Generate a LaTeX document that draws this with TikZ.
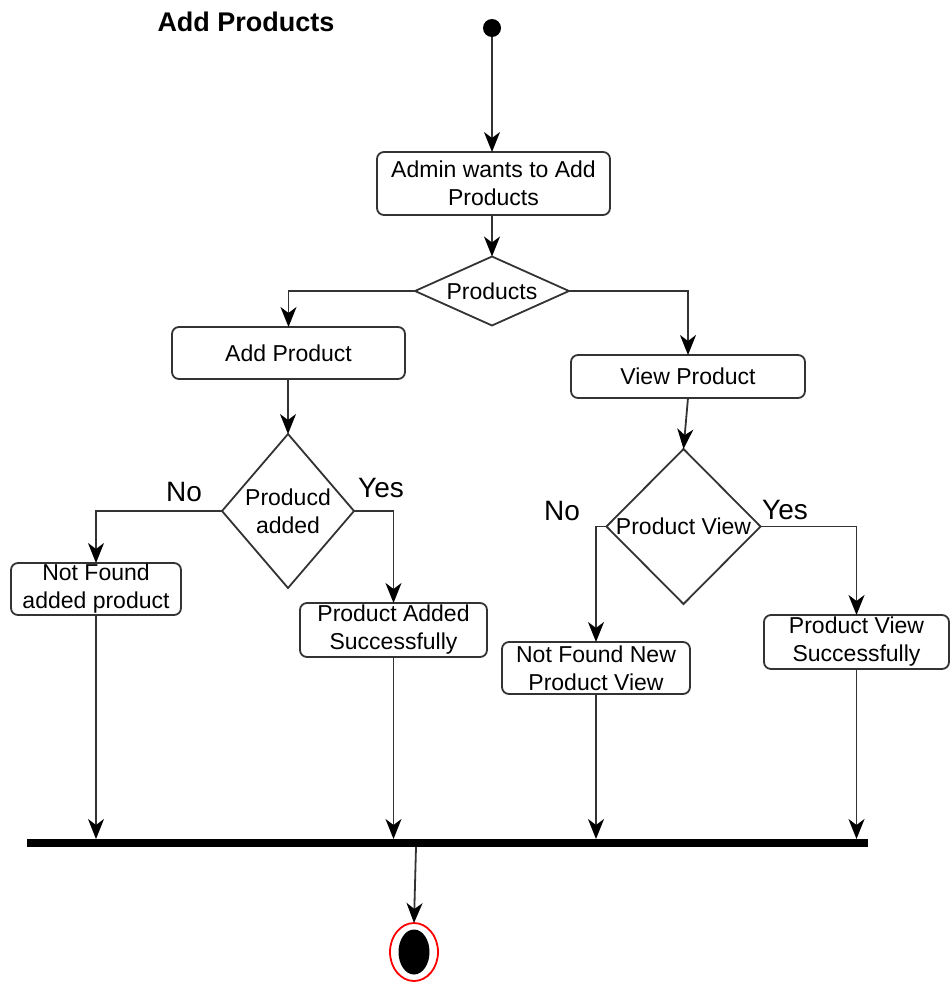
\documentclass[tikz,border=0pt]{standalone}
\usepackage{fontspec}
\setmainfont{Liberation Sans}
\usetikzlibrary{arrows.meta,shapes.geometric}

\begin{document}
\begin{tikzpicture}[x=1pt,y=-1pt,
  every node/.style={inner sep=0pt, outer sep=0pt},
  lbl/.style={font=\fontsize{23}{28}\selectfont, align=center, text=black},
  actbox/.style={draw=black!80, line width=1.8pt, rounded corners=7pt, fill=white, lbl},
  choice/.style={diamond, draw=black!80, line width=1.8pt, fill=white},
  answer/.style={font=\fontsize{28}{32}\selectfont, text=black},
  flow/.style={draw=black!80, line width=1.8pt,
    -{Stealth[length=20pt, width=16pt, inset=6pt, color=black]}},
  plain/.style={draw=black!80, line width=1.8pt}
]
\useasboundingbox (0,0) rectangle (950,985);

% title
\node[font=\fontsize{27}{32}\selectfont\bfseries] (title) at (246,22) {Add Products};

% initial and final states
\node[circle, fill=black, minimum size=18pt] (start) at (492,28) {};
\node[ellipse, draw=red, line width=1.8pt, fill=white,
      minimum width=48pt, minimum height=58pt] (final) at (414,952) {};
\node[ellipse, fill=black, minimum width=31pt, minimum height=45pt] (finalcore) at (414,952) {};

% activities
\node[actbox, minimum width=233pt, minimum height=63pt] (admin) at (493.5,183.5) {Admin wants to Add\\Products};
\node[actbox, minimum width=233pt, minimum height=52pt] (addp) at (288.5,353) {Add Product};
\node[actbox, minimum width=234pt, minimum height=43pt] (viewp) at (688,376.5) {View Product};
\node[actbox, minimum width=170pt, minimum height=52pt] (nfadd) at (96,589) {Not Found\\added product};
\node[actbox, minimum width=187pt, minimum height=54pt] (added) at (393.5,630) {Product Added\\Successfully};
\node[actbox, minimum width=188pt, minimum height=52pt] (nfview) at (596,668) {Not Found New\\Product View};
\node[actbox, minimum width=185pt, minimum height=54pt] (viewed) at (856.5,642) {Product View\\Successfully};

% decisions
\node[choice, minimum width=154pt, minimum height=69pt,
      label={[lbl]center:Products}] (dprod) at (492,291) {};
\node[choice, minimum width=132pt, minimum height=154pt,
      label={[lbl]center:Producd\\added}] (dadded) at (288,511) {};
\node[choice, minimum width=154pt, minimum height=155pt,
      label={[lbl]center:Product View}] (dview) at (683.5,526.5) {};

% branch labels
\node[answer] (no1) at (184,492) {No};
\node[answer] (yes1) at (381,488) {Yes};
\node[answer] (no2) at (562,511) {No};
\node[answer] (yes2) at (785,510) {Yes};

% join bar
\node[fill=black, minimum width=841pt, minimum height=8pt] (bar) at (447.5,843) {};
\coordinate (barout) at (416,847);

% flows
\draw[flow] (start) -- (start |- admin.north);
\draw[flow] (admin.south -| dprod) -- (dprod.north);
\draw[flow] (dprod.west) -| (addp.north);
\draw[flow] (dprod.east) -| (viewp.north);
\draw[flow] (addp.south -| dadded) -- (dadded.north);
\draw[flow] (viewp.south) -- (dview.north);
\draw[flow] (dadded.west) -| (nfadd.north);
\draw[flow] (dadded.east) -| (added.north);
\draw[flow] (dview.west) -| (nfview.north);
\draw[flow] (dview.east) -| (viewed.north);
\draw[flow] (nfadd.south) -- (nfadd.south |- bar.north);
\draw[flow] (added.south) -- (added.south |- bar.north);
\draw[flow] (nfview.south) -- (nfview.south |- bar.north);
\draw[flow] (viewed.south) -- (viewed.south |- bar.north);
\draw[flow] (barout) -- (final.north);
\end{tikzpicture}
\end{document}
